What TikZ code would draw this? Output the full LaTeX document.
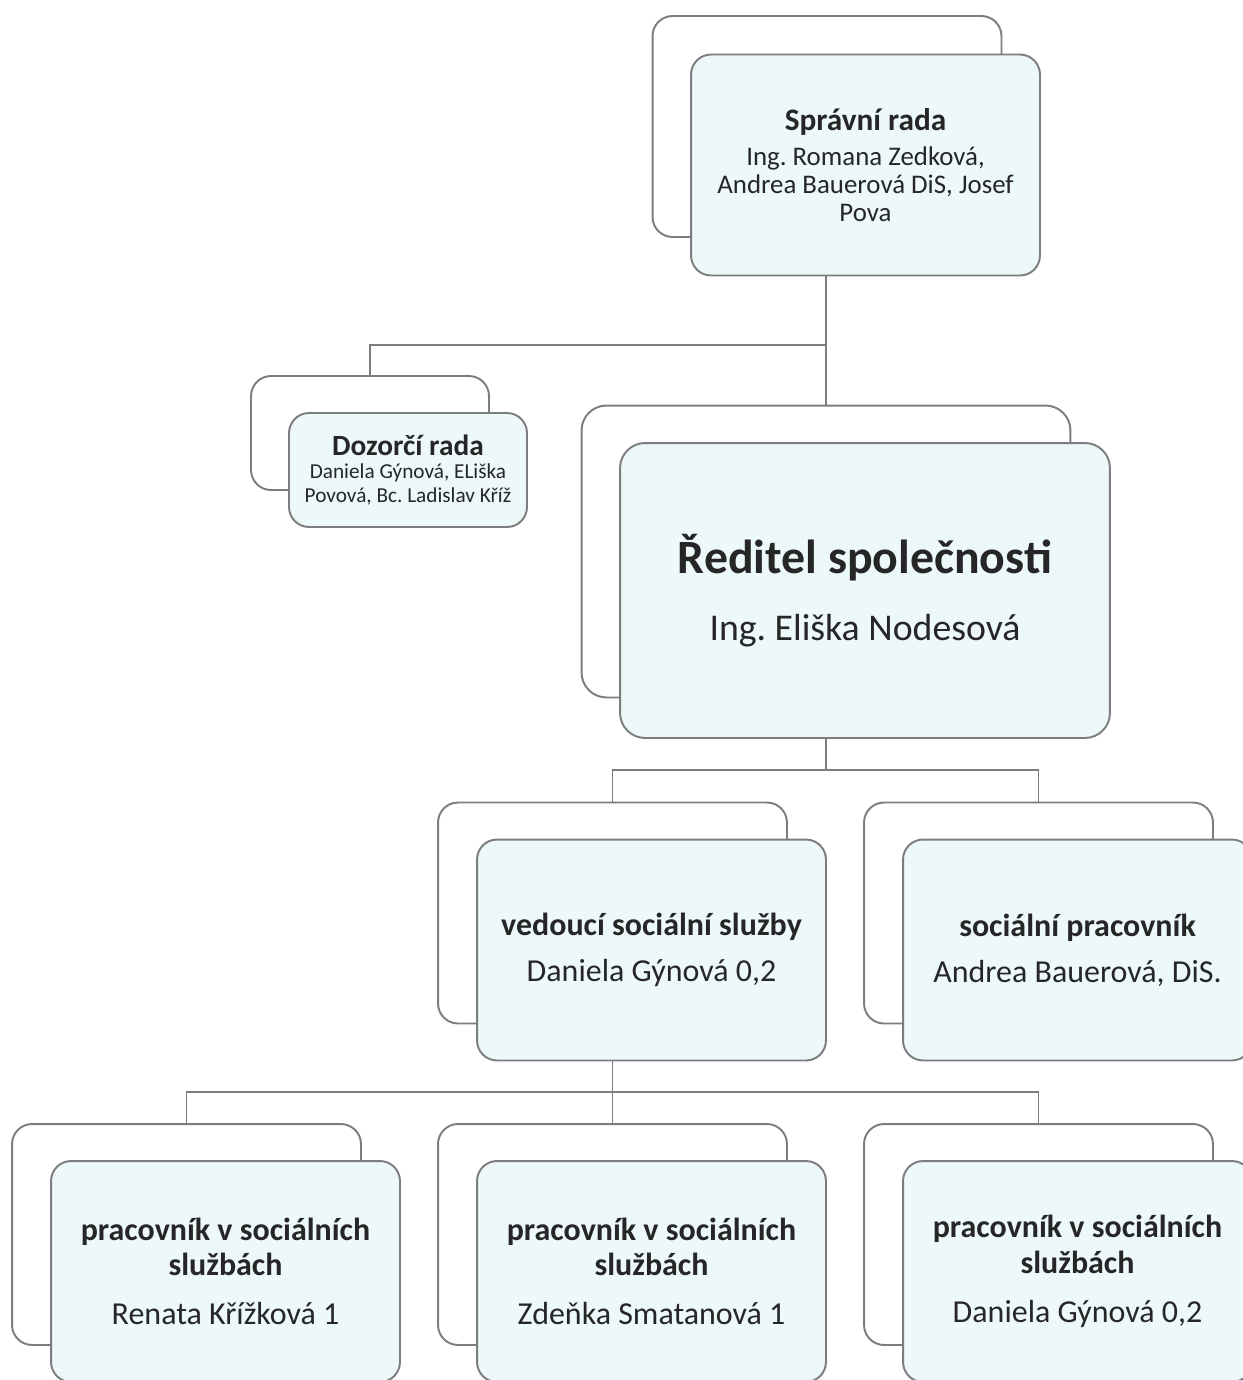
\documentclass[tikz,border=0pt]{standalone}
\usepackage{fontspec}
\setmainfont{Carlito}
\usepackage{tikz}

\definecolor{cardfill}{RGB}{236,248,250}
\definecolor{cardline}{RGB}{125,125,125}

\newcommand{\fs}[2]{\fontsize{#1}{#2}\selectfont}

\tikzset{
  back/.style={draw=cardline, fill=white, line width=1.1pt, rounded corners=0.4cm,
    inner sep=0pt, outer sep=0pt},
  card/.style={back, fill=cardfill, align=center, text=black!85},
  small/.style={minimum width=6.98cm, minimum height=4.42cm},
  midfont/.style={font=\fs{18.2pt}{20pt}},
  link/.style={draw=cardline, line width=1.1pt}
}

\begin{document}
\frenchspacing
\begin{tikzpicture}[x=0.02cm,y=-0.02cm]
          \useasboundingbox (0,0) rectangle (1243,1380);

            % zadni ramecky
          \node[back, small] (spravniB) at (827,126.5) {};
          \node[back, minimum width=4.76cm, minimum height=2.28cm] (dozorciB) at (370,433) {};
          \node[back, minimum width=9.78cm, minimum height=5.84cm, rounded corners=0.5cm] (reditelB) at (826,551.5) {};
          \node[back, small] (vedouciB) at (612.5,913) {};
          \node[back, small] (socialniB) at (1038.5,913) {};
          \node[back, small] (prac1B) at (186.5,1234.5) {};
          \node[back, small] (prac2B) at (612.5,1234.5) {};
          \node[back, small] (prac3B) at (1038.5,1234.5) {};

            % uzly vetveni
          \coordinate (j1) at (826,345);
          \coordinate (j2) at (826,770);
          \coordinate (j3) at (612.5,1092);

            % predni karty
          \node[card, small, font=\fs{15.3pt}{15.9pt}] (spravni) at (865.5,165)
            {\fs{17.8pt}{19pt}\textbf{Správní rada}\\[4pt]
             Ing. Romana Zedková,\\ Andrea Bauerová DiS, Josef\\ Pova};
          \node[card, minimum width=4.76cm, minimum height=2.28cm, font=\fs{12.1pt}{13.6pt}] (dozorci) at (408,470)
            {\fs{16.7pt}{17pt}\textbf{Dozorčí rada}\\
             Daniela Gýnová, ELiška\\ Povová, Bc. Ladislav Kříž};
          \node[card, minimum width=9.8cm, minimum height=5.9cm, rounded corners=0.5cm, font=\fs{21.5pt}{24pt}] (reditel) at (865,590.5)
            {\fs{27.2pt}{30pt}\textbf{Ředitel společnosti}\\[14pt]
             Ing. Eliška Nodesová};
          \node[card, small, midfont] (vedouci) at (651.5,950)
            {\textbf{vedoucí sociální služby}\\[6pt]
             Daniela Gýnová 0,2};
          \node[card, small, midfont] (socialni) at (1077.5,950)
            {\textbf{sociální pracovník}\\[6pt]
             Andrea Bauerová, DiS.};
          \node[card, small, midfont] (prac1) at (225.5,1271.5)
            {\textbf{pracovník v sociálních}\\ \textbf{službách}\\[8pt]
             Renata Křížková 1};
          \node[card, small, midfont] (prac2) at (651.5,1271.5)
            {\textbf{pracovník v sociálních}\\ \textbf{službách}\\[8pt]
             Zdeňka Smatanová 1};
          \node[card, small, midfont] (prac3) at (1077.5,1271.5)
            {\textbf{pracovník v sociálních}\\ \textbf{službách}\\[8pt]
             Daniela Gýnová 0,2};

            % spojnice
          \draw[link] (spravni.south -| j1) -- (j1) -| (dozorciB.north);
          \draw[link] (j1) -- (reditelB.north);
          \draw[link] (reditel.south -| j2) -- (j2);
          \draw[link] (vedouciB.north) |- (j2) -| (socialniB.north);
          \draw[link] (vedouci.south -| j3) -- (j3);
          \draw[link] (prac1B.north) |- (j3) -| (prac3B.north);
          \draw[link] (j3) -- (prac2B.north);
        \end{tikzpicture}
\end{document}
